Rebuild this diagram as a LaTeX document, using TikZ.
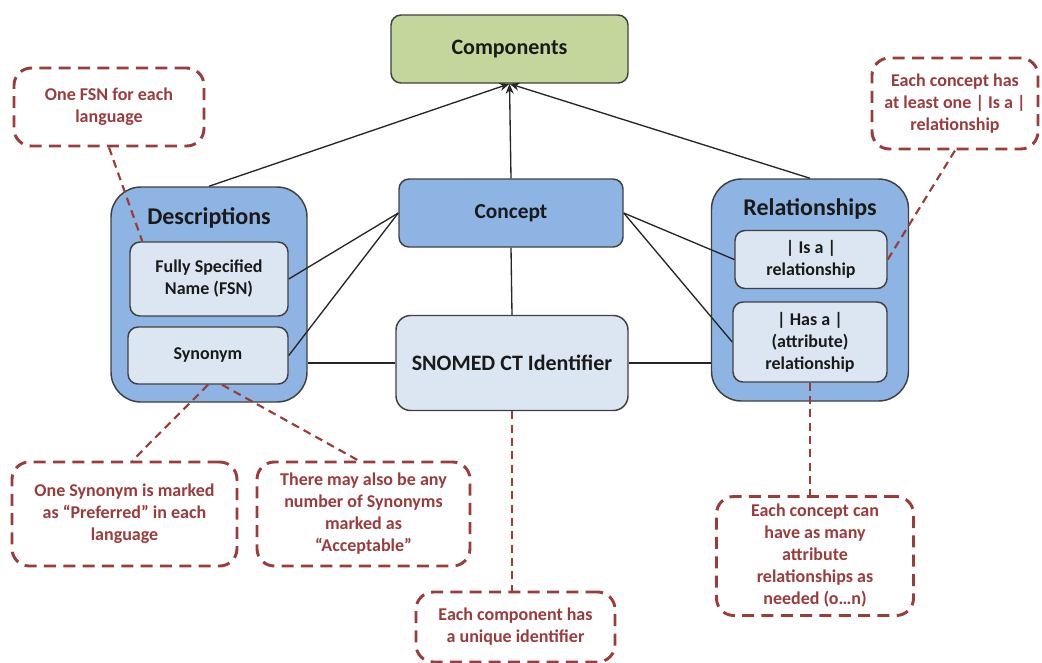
\documentclass[tikz,border=0pt]{standalone}
\usepackage{fontspec}
\setmainfont{Carlito}
\usetikzlibrary{arrows.meta,calc}
\definecolor{bluefill}{HTML}{8EB4E3}
\definecolor{lightfill}{HTML}{DCE6F2}
\definecolor{greenfill}{HTML}{C3D69B}
\definecolor{edgegray}{HTML}{404040}
\definecolor{notered}{HTML}{9B3B3B}
\definecolor{textdark}{HTML}{1A1A1A}
\begin{document}
\begin{tikzpicture}[x=0.75pt,y=-0.75pt,
  box/.style={draw=edgegray,line width=1.1pt,rectangle,inner sep=0pt,text=textdark,align=center,font=\bfseries},
  outerbox/.style={box,fill=bluefill,rounded corners=22.5pt},
  innerbox/.style={box,fill=lightfill,rounded corners=7.5pt,font=\bfseries\fontsize{13.5}{16.5}\selectfont},
  title/.style={text=textdark,font=\bfseries\fontsize{18}{20}\selectfont,inner sep=0pt},
  note/.style={draw=notered,line width=2.2pt,dash pattern=on 9pt off 5.5pt,rounded corners=13pt,rectangle,inner sep=0pt,text=notered,align=center,font=\bfseries\fontsize{13.5}{16.5}\selectfont},
  link/.style={draw=black!85,line width=1pt},
  arrow/.style={link,-{Stealth[length=7.5pt,width=6pt]}},
  notelink/.style={draw=notered,line width=1.6pt,dash pattern=on 6pt off 4pt}
]
\useasboundingbox (0,0) rectangle (1042,662);

% main boxes
\node[box,fill=greenfill,rounded corners=7.5pt,minimum width=237*0.75pt,minimum height=68*0.75pt,font=\bfseries\fontsize{16.5}{18}\selectfont] (comp) at (509.5,49) {Components};

\node[outerbox,minimum width=196*0.75pt,minimum height=215*0.75pt] (desc) at (209,294.5) {};
\node[title] (desct) at (209,218) {Descriptions};
\node[innerbox,minimum width=158*0.75pt,minimum height=74*0.75pt] (fsn) at (209,279) {Fully Specified\\Name (FSN)};
\node[innerbox,minimum width=160*0.75pt,minimum height=57*0.75pt] (syn) at (208,355.5) {Synonym};

\node[box,fill=bluefill,rounded corners=7.5pt,minimum width=224*0.75pt,minimum height=68*0.75pt,font=\bfseries\fontsize{16}{18}\selectfont] (concept) at (511,213) {Concept};

\node[outerbox,minimum width=197*0.75pt,minimum height=222*0.75pt] (rel) at (810,290) {};
\node[title] (relt) at (810,209) {Relationships};
\node[innerbox,minimum width=152*0.75pt,minimum height=58*0.75pt] (isa) at (811,259.5) {\textbar{} Is a \textbar\\relationship};
\node[innerbox,minimum width=154*0.75pt,minimum height=80*0.75pt] (hasa) at (810,342) {\textbar{} Has a \textbar\\(attribute)\\relationship};

\node[box,fill=lightfill,rounded corners=11pt,minimum width=232*0.75pt,minimum height=95*0.75pt,font=\bfseries\fontsize{16.5}{18}\selectfont] (sct) at (512,363) {SNOMED CT Identifier};

% notes
\node[note,minimum width=190*0.75pt,minimum height=78*0.75pt] (c1) at (109,107) {One FSN for each\\language};
\node[note,minimum width=166*0.75pt,minimum height=91*0.75pt] (c2) at (955,103.5) {Each concept has\\at least one \textbar{} Is a \textbar\\relationship};
\node[note,minimum width=225*0.75pt,minimum height=104*0.75pt] (c3) at (124.5,514) {One Synonym is marked\\as “Preferred” in each\\language};
\node[note,minimum width=213*0.75pt,minimum height=104*0.75pt] (c4) at (363.5,514) {There may also be any\\number of Synonyms\\marked as\\“Acceptable”};
\node[note,minimum width=199*0.75pt,minimum height=70*0.75pt] (c5) at (515.5,627) {Each component has\\a unique identifier};
\node[note,minimum width=197*0.75pt,minimum height=119*0.75pt] (c6) at (815,556) {Each concept can\\have as many\\attribute\\relationships as\\needed (o…n)};

% arrows to components
\draw[arrow] (desc.north) -- (comp.south);
\draw[arrow] (concept.north) -- (comp.south);
\draw[arrow] (rel.north) -- (comp.south);

% links
\draw[link] (fsn.east) -- (concept.west);
\draw[link] (syn.east) -- (concept.west);
\draw[link] (concept.east) -- (isa.west);
\draw[link] (concept.east) -- (hasa.west);
\draw[link] (concept.south) -- (sct.north);
\draw[link] (sct.west -| desc.east) -- (sct.west);
\draw[link] (sct.east) -- (sct.east -| rel.west);

% note links
\draw[notelink] (c1.south) -- ($(fsn.north west)+(13,0)$);
\draw[notelink] (syn.south) -- ($(c3.north)+(8,0)$);
\draw[notelink] ($(syn.south)+(14,0)$) -- ($(c4.north)+(-5,0)$);
\draw[notelink] (sct.south) -- (sct.south |- c5.north);
\draw[notelink] (hasa.south) -- (hasa.south |- c6.north);
\draw[notelink] (isa.east) -- (c2.south);
\end{tikzpicture}
\end{document}
